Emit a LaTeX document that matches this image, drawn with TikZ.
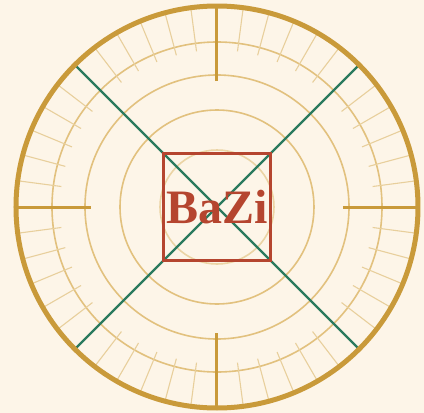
\documentclass[tikz,border=0pt]{standalone}
\usepackage{fontspec}
\setmainfont{Liberation Serif}

\definecolor{paper}{HTML}{FDF5E8}
\definecolor{gold}{HTML}{C99A3A}
\definecolor{lightgold}{HTML}{E2C17E}
\definecolor{tickgold}{HTML}{E8CF9C}
\definecolor{jade}{HTML}{2B7A5E}
\definecolor{cinnabar}{HTML}{B5452F}

\begin{document}
\begin{tikzpicture}[
  x=1pt, y=1pt,
  rim/.style={draw=gold, line width=5pt},
  ring/.style={draw=lightgold, line width=1.6pt},
  tick/.style={draw=tickgold, line width=1.1pt},
  cardinal/.style={draw=gold, line width=3pt},
  diag/.style={draw=jade, line width=2.4pt},
  seal/.style={draw=cinnabar, line width=2.4pt, minimum size=107pt, inner sep=0,
               text=cinnabar, font=\fontsize{48}{48}\selectfont\bfseries}
]

%% ── Page and backdrop ───────────────────────────────────────────────────────
\fill[paper] (-217,-206) rectangle (207,207);
\useasboundingbox (-217,-206) rectangle (207,207);

%% ── Rings ───────────────────────────────────────────────────────────────────
\draw[ring] (0,0) circle (165);
\draw[ring] (0,0) circle (132);
\draw[ring] (0,0) circle (97);
\draw[ring, draw=lightgold!70] (0,0) circle (57);

%% ── Minor ticks (every 7.5 deg, skipping cardinals and diagonals) ────────────
\foreach \a in {0,7.5,...,352.5} {
  \pgfmathtruncatemacro{\m}{mod(round(\a*2),90)}
  \ifnum\m=0\else
    \draw[tick] (\a:157) -- (\a:200);
  \fi
}

%% ── Cardinal marks ──────────────────────────────────────────────────────────
\foreach \a in {0,90,180,270}
  \draw[cardinal] (\a:126) -- (\a:200);

%% ── Diagonals ───────────────────────────────────────────────────────────────
\draw[diag] (45:201) -- (225:201);
\draw[diag] (135:201) -- (315:201);

%% ── Outer rim ───────────────────────────────────────────────────────────────
\draw[rim] (0,0) circle (201);

%% ── Centre seal ─────────────────────────────────────────────────────────────
\node[seal] (seal) at (0,0) {BaZi};

\end{tikzpicture}
\end{document}
